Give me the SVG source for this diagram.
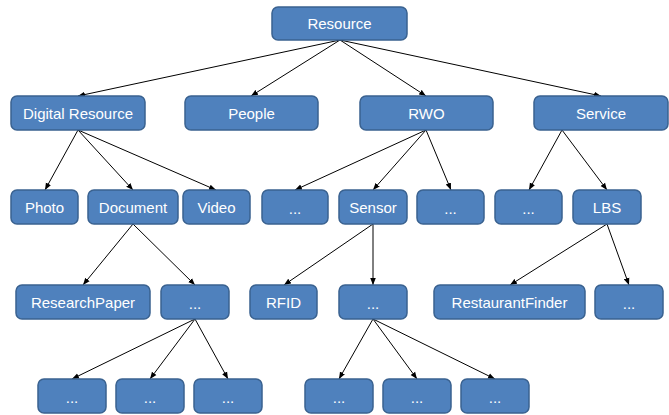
<svg xmlns="http://www.w3.org/2000/svg" width="669" height="415" viewBox="0 0 669 415">
  <style>
    .box { fill: #4F81BD; stroke: #3A6290; stroke-width: 1.5; }
    .lbl { fill: #ffffff; font-family: "Liberation Sans", Arial, sans-serif; font-size: 15px; text-anchor: middle; }
    .edge { stroke: #000000; stroke-width: 1; fill: none; marker-end: url(#tip); }
  </style>
  <defs>
    <marker id="tip" viewBox="0 0 10 10" refX="10" refY="5" markerWidth="7" markerHeight="7" orient="auto" markerUnits="userSpaceOnUse">
      <path d="M0,1 L10,5 L0,9 z" fill="#000000"/>
    </marker>
  </defs>

  <!-- connectors: parent bottom-centre to child top-centre -->
  <g id="connectors">
    <line class="edge" x1="340" y1="40" x2="78" y2="96"/>
    <line class="edge" x1="340" y1="40" x2="251" y2="96"/>
    <line class="edge" x1="340" y1="40" x2="426" y2="96"/>
    <line class="edge" x1="340" y1="40" x2="601" y2="96"/>

    <line class="edge" x1="78" y1="130" x2="45" y2="190"/>
    <line class="edge" x1="78" y1="130" x2="133" y2="190"/>
    <line class="edge" x1="78" y1="130" x2="216" y2="190"/>

    <line class="edge" x1="426" y1="130" x2="295" y2="190"/>
    <line class="edge" x1="426" y1="130" x2="373" y2="190"/>
    <line class="edge" x1="426" y1="130" x2="451" y2="190"/>

    <line class="edge" x1="562" y1="130" x2="529" y2="190"/>
    <line class="edge" x1="562" y1="130" x2="607" y2="190"/>

    <line class="edge" x1="133" y1="224" x2="83" y2="285"/>
    <line class="edge" x1="133" y1="224" x2="195" y2="285"/>

    <line class="edge" x1="373" y1="224" x2="284" y2="285"/>
    <line class="edge" x1="373" y1="224" x2="373" y2="285"/>

    <line class="edge" x1="607" y1="224" x2="510" y2="285"/>
    <line class="edge" x1="607" y1="224" x2="629" y2="285"/>

    <line class="edge" x1="195" y1="319" x2="72" y2="379"/>
    <line class="edge" x1="195" y1="319" x2="150" y2="379"/>
    <line class="edge" x1="195" y1="319" x2="228" y2="379"/>

    <line class="edge" x1="373" y1="319" x2="339" y2="379"/>
    <line class="edge" x1="373" y1="319" x2="417" y2="379"/>
    <line class="edge" x1="373" y1="319" x2="495" y2="379"/>
  </g>

  <!-- level 0 -->
  <g id="resource"><rect class="box" x="272" y="7" width="135" height="33" rx="6"/><text class="lbl" x="339.5" y="29">Resource</text></g>

  <!-- level 1 -->
  <g id="digital-resource"><rect class="box" x="11" y="96" width="134" height="34" rx="6"/><text class="lbl" x="78" y="118.5">Digital Resource</text></g>
  <g id="people"><rect class="box" x="185" y="96" width="133" height="34" rx="6"/><text class="lbl" x="251.5" y="118.5">People</text></g>
  <g id="rwo"><rect class="box" x="360" y="96" width="133" height="34" rx="6"/><text class="lbl" x="426.5" y="118.5">RWO</text></g>
  <g id="service"><rect class="box" x="534" y="96" width="134" height="34" rx="6"/><text class="lbl" x="601" y="118.5">Service</text></g>

  <!-- level 2 -->
  <g id="photo"><rect class="box" x="11" y="190" width="67" height="34" rx="6"/><text class="lbl" x="44.5" y="212.5">Photo</text></g>
  <g id="document"><rect class="box" x="88" y="190" width="90" height="34" rx="6"/><text class="lbl" x="133" y="212.5">Document</text></g>
  <g id="video"><rect class="box" x="183" y="190" width="67" height="34" rx="6"/><text class="lbl" x="216.5" y="212.5">Video</text></g>
  <g id="rwo-more-1"><rect class="box" x="262" y="190" width="66" height="34" rx="6"/><text class="lbl" x="295" y="214">...</text></g>
  <g id="sensor"><rect class="box" x="339" y="190" width="68" height="34" rx="6"/><text class="lbl" x="373" y="212.5">Sensor</text></g>
  <g id="rwo-more-2"><rect class="box" x="417" y="190" width="67" height="34" rx="6"/><text class="lbl" x="450.5" y="214">...</text></g>
  <g id="service-more"><rect class="box" x="495" y="190" width="67" height="34" rx="6"/><text class="lbl" x="528.5" y="214">...</text></g>
  <g id="lbs"><rect class="box" x="573" y="190" width="68" height="34" rx="6"/><text class="lbl" x="607" y="212.5">LBS</text></g>

  <!-- level 3 -->
  <g id="research-paper"><rect class="box" x="16" y="285" width="134" height="34" rx="6"/><text class="lbl" x="83" y="307.5">ResearchPaper</text></g>
  <g id="document-more"><rect class="box" x="161" y="285" width="68" height="34" rx="6"/><text class="lbl" x="195" y="309">...</text></g>
  <g id="rfid"><rect class="box" x="250" y="285" width="67" height="34" rx="6"/><text class="lbl" x="283.5" y="307.5">RFID</text></g>
  <g id="sensor-more"><rect class="box" x="339" y="285" width="68" height="34" rx="6"/><text class="lbl" x="373" y="309">...</text></g>
  <g id="restaurant-finder"><rect class="box" x="434" y="285" width="151" height="34" rx="6"/><text class="lbl" x="509.5" y="307.5">RestaurantFinder</text></g>
  <g id="lbs-more"><rect class="box" x="595" y="285" width="68" height="34" rx="6"/><text class="lbl" x="629" y="309">...</text></g>

  <!-- level 4 -->
  <g id="doc-leaf-1"><rect class="box" x="38" y="379" width="68" height="34" rx="6"/><text class="lbl" x="72" y="403">...</text></g>
  <g id="doc-leaf-2"><rect class="box" x="116" y="379" width="68" height="34" rx="6"/><text class="lbl" x="150" y="403">...</text></g>
  <g id="doc-leaf-3"><rect class="box" x="194" y="379" width="68" height="34" rx="6"/><text class="lbl" x="228" y="403">...</text></g>
  <g id="sensor-leaf-1"><rect class="box" x="305" y="379" width="68" height="34" rx="6"/><text class="lbl" x="339" y="403">...</text></g>
  <g id="sensor-leaf-2"><rect class="box" x="383" y="379" width="68" height="34" rx="6"/><text class="lbl" x="417" y="403">...</text></g>
  <g id="sensor-leaf-3"><rect class="box" x="461" y="379" width="68" height="34" rx="6"/><text class="lbl" x="495" y="403">...</text></g>
</svg>
